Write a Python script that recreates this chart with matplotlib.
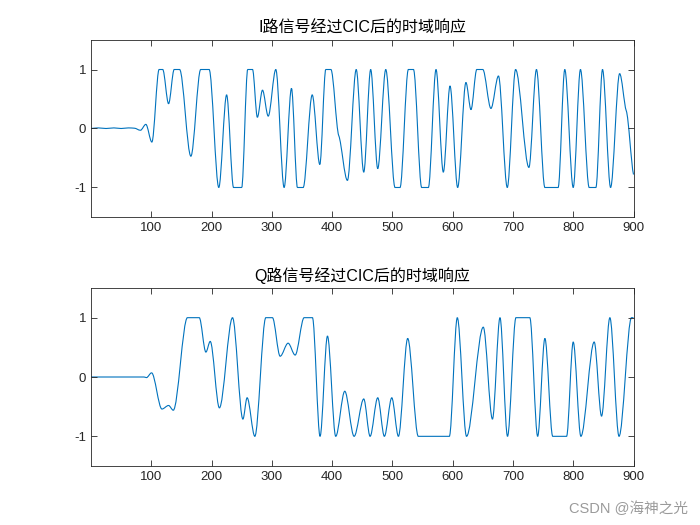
import numpy as np
import matplotlib
matplotlib.use("Agg")
import matplotlib.pyplot as plt
from matplotlib.path import Path
from matplotlib.patches import PathPatch

plt.rcParams['font.family'] = ['Liberation Sans', 'Noto Sans CJK SC', 'DejaVu Sans']

# ---- data: extrema / key points ----
i_x = [0, 12, 25, 38, 50, 62, 72, 82, 91, 101, 113, 119, 128.7, 138, 147, 165.7, 182, 196,
       212, 225, 236.5, 250, 260, 268, 276, 284.5, 294, 306.6, 320.4, 332.6, 342.5, 352,
       367, 379.6, 389.5, 398, 411, 425.4, 440, 452.5, 464, 475.7, 489, 504.4, 512.7,
       526.5, 535, 548.6, 559.7, 572.4, 584.5, 595.6, 608.3, 622, 630.4, 640, 650, 663.5,
       676, 690.6, 704.4, 726.5, 739, 753, 775, 786, 800, 812, 826.5, 837.6, 848.6, 862,
       877, 888, 900]
i_y = [0, 0.01, 0, 0.01, 0, 0.01, 0.005, -0.03, 0.07, -0.23, 1, 1, 0.42, 1, 1, -0.47, 1, 1,
       -1, 0.57, -1, -1, 1, 1, 0.19, 0.65, 0.21, 1, -1, 0.68, -1, -1,
       0.57, -0.61, 1, 1, -0.12, -0.88, 1, -0.74, 1, -0.68, 1, -1, -1,
       1, 1, -1, -1, 1, -0.74, 0.72, -1, 0.78, 0.32, 1, 1, 0.34,
       0.89, -1, 1, -0.66, 1, -1, -1, 1, -1, 1, -1, -1, 1, -1,
       0.93, 0.3, -0.78]

q_x = [0, 88, 92, 100.5, 117.7, 128.7, 136.5, 160, 179.6, 190.6, 197.8, 213, 234.8, 252,
       259, 271.8, 290, 301, 313.8, 327, 338.7, 353.6, 367.4, 380, 392.3, 406, 421, 436.5,
       452.5, 463, 475.7, 486.7, 499, 510, 525.4, 543, 594.5, 607.7, 623, 650.8, 666,
       678.5, 691, 705, 728, 741, 753, 766, 789, 800, 812.7, 834.8, 847, 860.8, 876,
       896.7, 900]
q_y = [0, 0, -0.01, 0.07, -0.54, -0.48, -0.56, 1, 1, 0.42, 0.6, -0.52, 1, -0.71,
       -0.35, -1, 1, 1, 0.35, 0.57, 0.37, 1, 1, -1, 0.69, -1, -0.24, -1,
       -0.37, -1, -0.35, -1, -0.35, -1, 0.65, -1, -1, 1, -1, 0.84, -0.71,
       1, -1, 1, 1, -1, 0.65, -1, -1, 0.59, -1, 0.59, -0.66, 1, -1,
       1, 1]

titles = ['I路信号经过CIC后的时域响应', 'Q路信号经过CIC后的时域响应']
x_ticks = [100, 200, 300, 400, 500, 600, 700, 800, 900]
y_ticks = [-1, 0, 1]

LINE = '#0072BD'
AXC = '#262626'
FAM = ['Liberation Sans', 'Noto Sans CJK SC', 'DejaVu Sans']


def smooth_path(xs, ys):
    xs = np.asarray(xs, float)
    ys = np.asarray(ys, float)
    n = len(xs)
    m = np.zeros(n)
    for k in range(n):
        if k == 0 or k == n - 1:
            a, b = max(k - 1, 0), min(k + 1, n - 1)
            m[k] = (ys[b] - ys[a]) / (xs[b] - xs[a]) * 0.5
        else:
            d1 = ys[k] - ys[k - 1]
            d2 = ys[k + 1] - ys[k]
            if d1 * d2 <= 0:
                m[k] = 0.0
            else:
                m[k] = (ys[k + 1] - ys[k - 1]) / (xs[k + 1] - xs[k - 1]) * 0.35
    verts = [(xs[0], ys[0])]
    codes = [Path.MOVETO]
    for k in range(n - 1):
        dx = xs[k + 1] - xs[k]
        verts += [(xs[k] + dx / 3, ys[k] + m[k] * dx / 3),
                  (xs[k + 1] - dx / 3, ys[k + 1] - m[k + 1] * dx / 3),
                  (xs[k + 1], ys[k + 1])]
        codes += [Path.CURVE4] * 3
    return Path(verts, codes)


fig = plt.figure(figsize=(7, 5.25), dpi=100)
positions = [[0.13, 0.5867, 0.775, 0.3371], [0.13, 0.1124, 0.775, 0.339]]
for pos, xs, ys, title in zip(positions, [i_x, q_x], [i_y, q_y], titles):
    ax = fig.add_axes(pos)
    ax.plot(xs, ys, alpha=0)
    patch = PathPatch(smooth_path(xs, ys), facecolor='none', edgecolor=LINE, lw=0.8,
                      transform=ax.transData, clip_on=True)
    ax.add_patch(patch)
    ax.set_xlim(0, 900)
    ax.set_ylim(-1.5, 1.5)
    ax.set_xticks(x_ticks)
    ax.set_yticks(y_ticks)
    ax.set_xticklabels([str(v) for v in x_ticks])
    ax.set_yticklabels([str(v) for v in y_ticks])
    ax.tick_params(direction='in', top=True, right=True, length=4, width=0.6,
                   colors=AXC, labelsize=9.5, labelcolor=AXC)
    for s in ax.spines.values():
        s.set_color(AXC)
        s.set_linewidth(0.6)
    ax.set_title(title, fontsize=11.5, color='#000000', pad=5, family=FAM)

fig.text(0.983, 0.032, 'CSDN @海神之光', ha='right', va='center', fontsize=10.5,
         color='#9a9a9a', family=FAM)

fig.savefig('out.png', dpi=100, facecolor='white')
